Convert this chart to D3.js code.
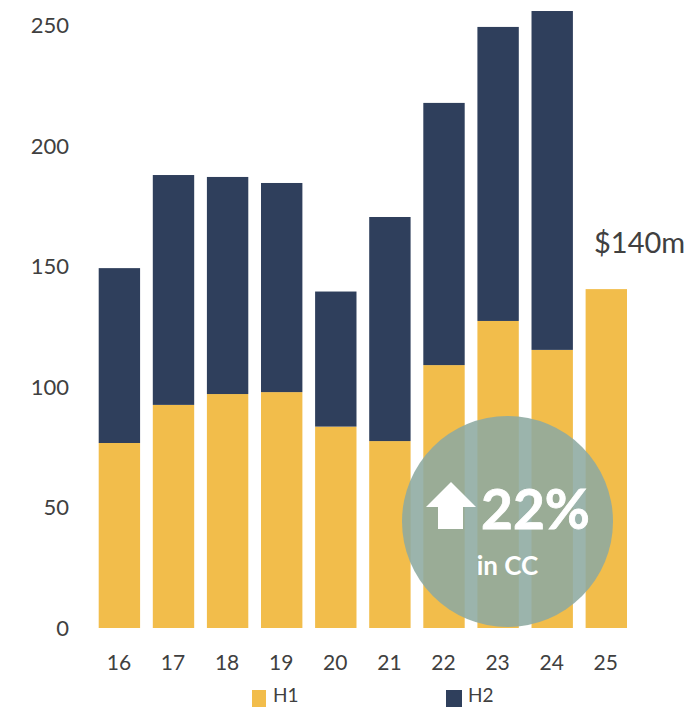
<!DOCTYPE html>
<html><head><meta charset="utf-8"><script src="https://cdn.jsdelivr.net/npm/d3@7"></script>
<style>html,body{margin:0;background:#fff}svg{display:block}text{font-family:Lato,sans-serif}</style></head><body><svg id="c" width="689" height="707"></svg>
<script>
const categories=["16","17","18","19","20","21","22","23","24","25"];
const h1=[76.7,92.5,97,97.8,83.5,77.5,109,127.3,115.3,140.5];
const h2=[72.5,95.3,90,86.7,56,92.9,108.7,121.9,140.5,0];
const yTicks=[0,50,100,150,200,250];
const colors={H1:"#F2BD4B",H2:"#2F3F5C"};
const svg=d3.select("#c");
const y=d3.scaleLinear().domain([0,250]).range([628,25]);
const x=d3.scaleBand().domain(categories).range([98.7,627]).paddingInner(0.235).paddingOuter(0);
categories.forEach((c,i)=>{
 svg.append("rect").attr("x",x(c)).attr("width",x.bandwidth()).attr("y",y(h1[i])).attr("height",y(0)-y(h1[i])).attr("fill",colors.H1);
 if(h2[i]>0)svg.append("rect").attr("x",x(c)).attr("width",x.bandwidth()).attr("y",y(h1[i]+h2[i])).attr("height",y(0)-y(h2[i])).attr("fill",colors.H2);
 svg.append("text").attr("x",x(c)+x.bandwidth()/2-0.5).attr("y",670).attr("text-anchor","middle").attr("font-size",21).attr("fill","#404040").text(c);
});
yTicks.forEach(t=>svg.append("text").attr("x",69).attr("y",y(t)+8).attr("text-anchor","end").attr("font-size",22).attr("fill","#404040").text(t));
svg.append("text").attr("x",594).attr("y",253).attr("font-size",29).attr("fill","#404040").text("$140m");
svg.append("circle").attr("cx",507.5).attr("cy",521.5).attr("r",105.5).attr("fill","#8DAAA0").attr("fill-opacity",0.88);
svg.append("path").attr("d",d3.line()([[451,482],[476,507],[463,507],[463,529],[438,529],[438,507],[426,507]])+"Z").attr("fill","#fff");
svg.append("text").attr("x",481).attr("y",529).attr("font-size",55).attr("font-weight",700).attr("stroke","#fff").attr("stroke-width",0.8).attr("fill","#fff").text("22%");
svg.append("text").attr("x",507.5).attr("y",575).attr("text-anchor","middle").attr("font-size",26).attr("font-weight",700).attr("fill","#fff").text("in CC");
[["H1",252,273],["H2",446,468]].forEach(([k,px,tx])=>{
 svg.append("rect").attr("x",px).attr("y",690).attr("width",k==="H1"?14:16).attr("height",17).attr("fill",colors[k]);
 svg.append("text").attr("x",tx).attr("y",702).attr("font-size",19).attr("fill","#404040").text(k);
});
</script></body></html>
